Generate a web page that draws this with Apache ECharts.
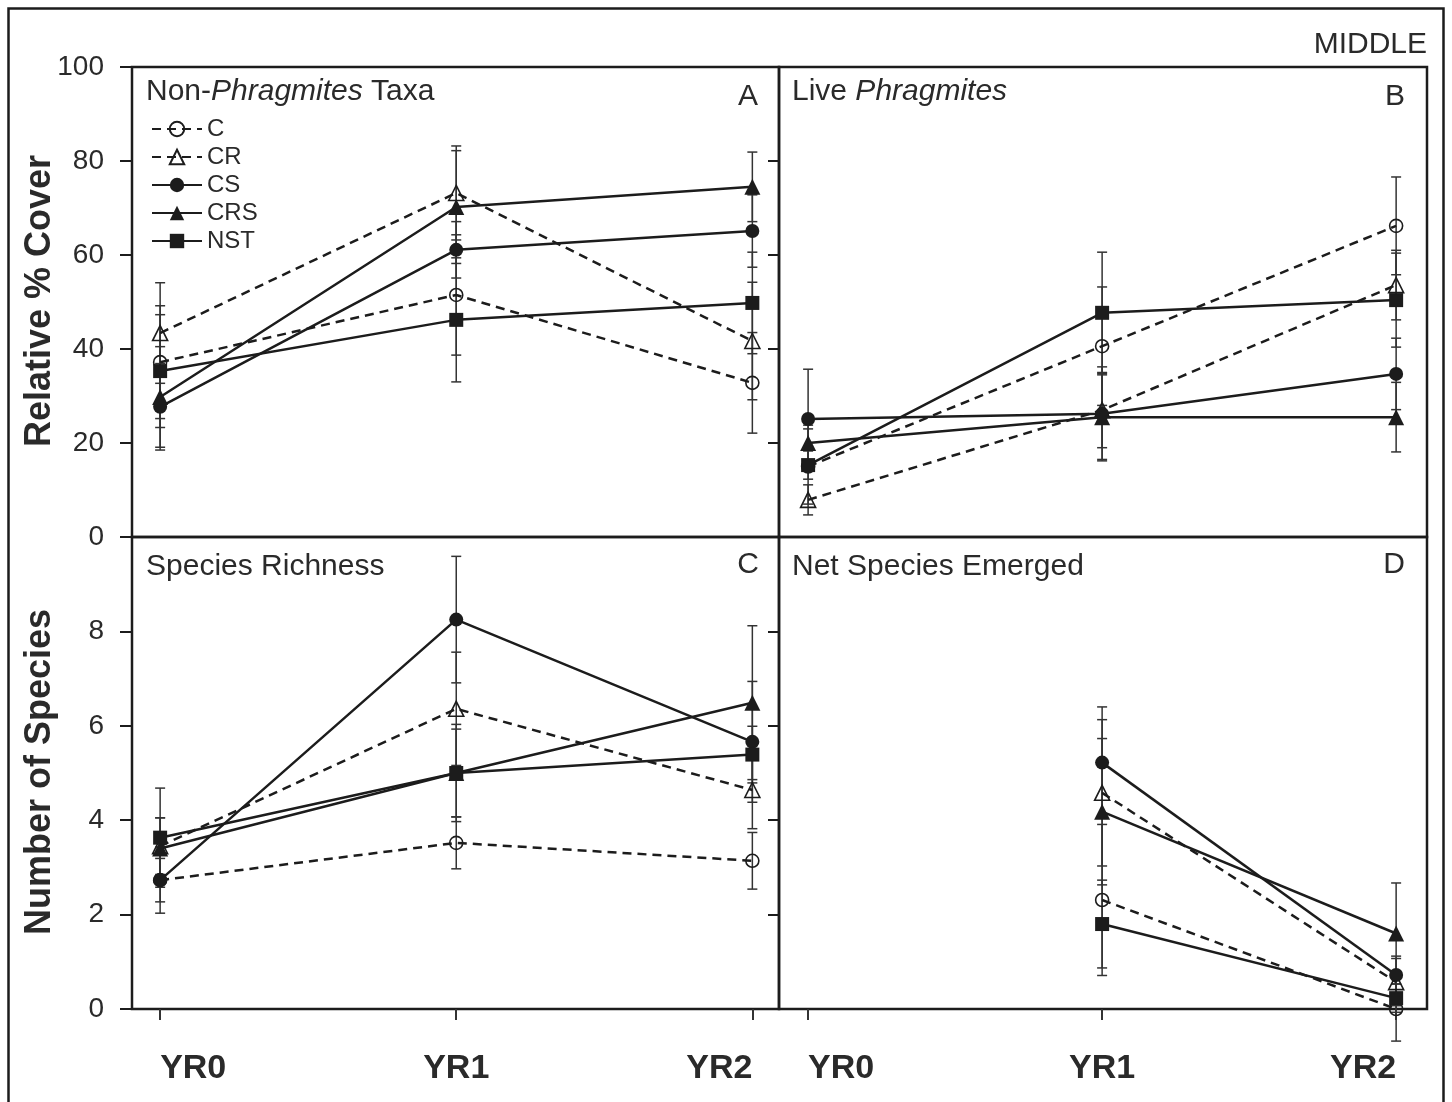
<!DOCTYPE html>
<html>
<head>
<meta charset="utf-8">
<title>MIDDLE</title>
<script src="https://cdn.jsdelivr.net/npm/echarts@6/dist/echarts.min.js"></script>
<style>
  html, body { margin: 0; padding: 0; background: #fff; }
  #chart { width: 1452px; height: 1102px; }
</style>
</head>
<body>
<div id="chart"></div>
<script>
const years = ['YR0', 'YR1', 'YR2'];
const groups = ['C', 'CR', 'CS', 'CRS', 'NST'];

// A: Non-Phragmites taxa, relative % cover (rows follow groups)
const nonPhragMean = [
  [37.2, 51.5, 32.8],
  [43.4, 73.2, 41.7],
  [27.7, 61.1, 65.1],
  [29.8, 70.2, 74.5],
  [35.3, 46.2, 49.8]
];
const nonPhragErr = [
  [12, 12.8, 10.7],
  [10.7, 10, 12.5],
  [9.2, 6, 7.7],
  [10.7, 12, 7.4],
  [12, 13.2, 10.8]
];

// B: Live Phragmites, relative % cover
const livePhragMean = [
  [15, 40.6, 66.2],
  [7.9, 27, 53.6],
  [25.1, 26.2, 34.7],
  [20, 25.5, 25.5],
  [15.3, 47.7, 50.4]
];
const livePhragErr = [
  [8, 12.6, 10.4],
  [3.2, 8, 7.4],
  [10.6, 10, 7.6],
  [3.8, 9, 7.4],
  [3, 12.9, 10]
];

// C: Species richness
const richnessMean = [
  [2.73, 3.52, 3.14],
  [3.45, 6.36, 4.64],
  [2.73, 8.25, 5.66],
  [3.4, 5.0, 6.49],
  [3.63, 5.0, 5.39]
];
const richnessErr = [
  [0.46, 0.55, 0.6],
  [0.6, 1.2, 0.82],
  [0.7, 1.34, 1.28],
  [0.65, 0.93, 1.63],
  [1.05, 1.03, 0.6]
];

// D: Net species emerged (no YR0 value)
const netMean = [
  [null, 2.31, 0],
  [null, 4.58, 0.57],
  [null, 5.22, 0.72],
  [null, 4.18, 1.6],
  [null, 1.8, 0.23]
];
const netErr = [
  [null, 1.6, 0.68],
  [null, 1.55, 0.5],
  [null, 1.18, 0.4],
  [null, 1.55, 1.07],
  [null, 0.93, 0.3]
];

const panels = [
  { mean: nonPhragMean, err: nonPhragErr, axis: 0 },
  { mean: livePhragMean, err: livePhragErr, axis: 1 },
  { mean: richnessMean, err: richnessErr, axis: 2 },
  { mean: netMean, err: netErr, axis: 3 }
];

const FONT = '"Liberation Sans", Arial, Helvetica, sans-serif';
const INK = '#1c1c1c';
const TEXT = '#2a2a2a';

const markers = {
  C: { symbol: 'circle', size: 13, fill: 'transparent', dash: [9, 6] },
  CR: { symbol: 'triangle', size: 15, fill: 'transparent', dash: [9, 6] },
  CS: { symbol: 'circle', size: 14, fill: INK, dash: 'solid' },
  CRS: { symbol: 'triangle', size: 16, fill: INK, dash: 'solid' },
  NST: { symbol: 'rect', size: 14, fill: INK, dash: 'solid' }
};

function renderErr(params, api) {
  const x = api.value(0);
  const lo = api.coord([x, api.value(1)]);
  const hi = api.coord([x, api.value(2)]);
  const w = 5;
  const st = { stroke: '#333', lineWidth: 1.5 };
  return {
    type: 'group',
    children: [
      { type: 'line', shape: { x1: lo[0], y1: lo[1], x2: hi[0], y2: hi[1] }, style: st },
      { type: 'line', shape: { x1: lo[0] - w, y1: lo[1], x2: lo[0] + w, y2: lo[1] }, style: st },
      { type: 'line', shape: { x1: hi[0] - w, y1: hi[1], x2: hi[0] + w, y2: hi[1] }, style: st }
    ]
  };
}

const series = [];
panels.forEach(function (p) {
  groups.forEach(function (g, gi) {
    const m = markers[g];
    const pts = p.mean[gi].map(function (v, i) { return v == null ? [i, null] : [i, v]; });
    const bars = [];
    p.mean[gi].forEach(function (v, i) {
      const e = p.err[gi][i];
      if (v != null) bars.push([i, v - e, v + e]);
    });
    series.push({
      type: 'custom',
      name: g + '-err',
      xAxisIndex: p.axis,
      yAxisIndex: p.axis,
      renderItem: renderErr,
      data: bars,
      z: 1,
      silent: true
    });
    series.push({
      type: 'line',
      name: g,
      xAxisIndex: p.axis,
      yAxisIndex: p.axis,
      data: pts,
      symbol: m.symbol,
      symbolSize: m.size,
      showAllSymbol: true,
      connectNulls: false,
      lineStyle: { color: INK, width: 2.5, type: m.dash },
      itemStyle: { color: m.fill, borderColor: INK, borderWidth: m.fill === 'transparent' ? 1.6 : 0 },
      z: 2
    });
  });
});

const gridStyle = { show: true, borderColor: INK, borderWidth: 2.5, backgroundColor: 'transparent' };
const grids = [
  Object.assign({ left: 132, top: 67, width: 647, height: 470 }, gridStyle),
  Object.assign({ left: 779, top: 67, width: 648, height: 470 }, gridStyle),
  Object.assign({ left: 132, top: 537, width: 647, height: 472 }, gridStyle),
  Object.assign({ left: 779, top: 537, width: 648, height: 472 }, gridStyle)
];

function xAxisFor(idx, bottom, lo, hi) {
  return {
    type: 'value',
    gridIndex: idx,
    min: lo,
    max: hi,
    splitLine: { show: false },
    axisLine: { show: false, onZero: false },
    axisTick: {
      show: bottom,
      customValues: [0, 1, 2],
      length: 11,
      lineStyle: { color: '#333', width: 2 }
    },
    axisLabel: {
      show: bottom,
      customValues: [0, 1, 2],
      formatter: function (v) { return years[Math.round(v)]; },
      fontFamily: FONT,
      fontSize: 34,
      fontWeight: 'bold',
      color: TEXT,
      margin: 43,
      alignMinLabel: 'left',
      alignMaxLabel: 'right'
    }
  };
}

function yAxisMain(idx, max, interval, labelVals, showLabels) {
  return {
    type: 'value',
    gridIndex: idx,
    min: 0,
    max: max,
    interval: interval,
    splitLine: { show: false },
    axisLine: { show: false, onZero: false },
    axisTick: {
      show: showLabels,
      customValues: labelVals,
      length: 12,
      lineStyle: { color: INK, width: 2 }
    },
    axisLabel: {
      show: showLabels,
      customValues: labelVals,
      fontFamily: FONT,
      fontSize: 28,
      color: TEXT,
      margin: 28
    }
  };
}

function yAxisInner(idx, max, interval, vals) {
  return {
    type: 'value',
    gridIndex: idx,
    position: 'right',
    min: 0,
    max: max,
    interval: interval,
    splitLine: { show: false },
    axisLine: { show: false, onZero: false },
    axisLabel: { show: false },
    axisTick: {
      show: true,
      inside: true,
      customValues: vals,
      length: 11,
      lineStyle: { color: INK, width: 2 }
    }
  };
}

const coverTicks = [0, 20, 40, 60, 80, 100];
const speciesTicks = [0, 2, 4, 6, 8];

function label(text, x, y, align, rich) {
  return {
    type: 'text',
    x: x,
    y: y,
    silent: true,
    style: {
      text: text,
      fontFamily: FONT,
      fontSize: 30,
      fill: TEXT,
      align: align,
      verticalAlign: 'middle',
      rich: rich
    }
  };
}

const italicRich = {
  r: { fontFamily: FONT, fontSize: 30, color: TEXT },
  i: { fontFamily: FONT, fontSize: 30, color: TEXT, fontStyle: 'italic' }
};

function sideTitle(text, y) {
  return {
    type: 'text',
    x: 40,
    y: y,
    rotation: Math.PI / 2,
    silent: true,
    style: {
      text: text,
      fontFamily: FONT,
      fontSize: 36,
      fontWeight: 'bold',
      fill: TEXT,
      align: 'center',
      verticalAlign: 'middle'
    }
  };
}

const option = {
  animation: false,
  backgroundColor: '#fff',
  grid: grids,
  xAxis: [
    xAxisFor(0, false, -0.095, 2.09),
    xAxisFor(1, false, -0.099, 2.105),
    xAxisFor(2, true, -0.095, 2.09),
    xAxisFor(3, true, -0.099, 2.105)
  ],
  yAxis: [
    yAxisMain(0, 100, 20, coverTicks, true),
    yAxisMain(1, 100, 20, coverTicks, false),
    yAxisMain(2, 10, 2, speciesTicks, true),
    yAxisMain(3, 10, 2, speciesTicks, false),
    yAxisInner(0, 100, 20, [20, 40, 60, 80]),
    yAxisInner(2, 10, 2, [2, 4, 6, 8])
  ],
  legend: {
    data: groups,
    orient: 'vertical',
    left: 146,
    top: 112,
    itemWidth: 50,
    itemHeight: 18,
    itemGap: 4,
    selectedMode: false,
    textStyle: { fontFamily: FONT, fontSize: 24, color: TEXT, lineHeight: 24 }
  },
  series: series,
  graphic: [
    {
      type: 'rect',
      silent: true,
      shape: { x: 8.5, y: 8.5, width: 1435, height: 1120 },
      style: { fill: 'none', stroke: INK, lineWidth: 2.5 }
    },
    label('MIDDLE', 1427, 45, 'right'),
    label('{r|Non-}{i|Phragmites}{r| Taxa}', 146, 92, 'left', italicRich),
    label('A', 758, 97, 'right'),
    label('{r|Live }{i|Phragmites}', 792, 92, 'left', italicRich),
    label('B', 1405, 97, 'right'),
    label('Species Richness', 146, 567, 'left'),
    label('C', 759, 565, 'right'),
    label('Net Species Emerged', 792, 567, 'left'),
    label('D', 1405, 565, 'right'),
    sideTitle('Relative % Cover', 301),
    sideTitle('Number of Species', 772)
  ]
};

const chart = echarts.init(document.getElementById('chart'));
chart.setOption(option);
window.addEventListener('resize', function () { chart.resize(); });
</script>
</body>
</html>
